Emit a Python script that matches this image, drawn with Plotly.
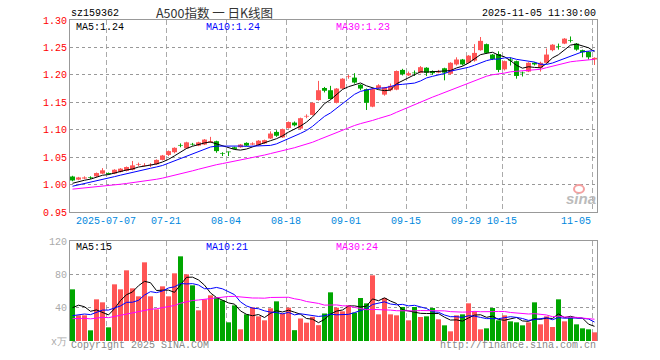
import plotly.graph_objects as go
import pandas as pd

# ---------------- data ----------------
dates = [
    "2025-06-27", "2025-06-30",
    "2025-07-01", "2025-07-02", "2025-07-03", "2025-07-04", "2025-07-07", "2025-07-08", "2025-07-09", "2025-07-10",
    "2025-07-11", "2025-07-14", "2025-07-15", "2025-07-16", "2025-07-17", "2025-07-18", "2025-07-21", "2025-07-22",
    "2025-07-23", "2025-07-24", "2025-07-25", "2025-07-28", "2025-07-29", "2025-07-30", "2025-07-31",
    "2025-08-01", "2025-08-04", "2025-08-05", "2025-08-06", "2025-08-07", "2025-08-08", "2025-08-11", "2025-08-12",
    "2025-08-13", "2025-08-14", "2025-08-15", "2025-08-18", "2025-08-19", "2025-08-20", "2025-08-21", "2025-08-22",
    "2025-08-25", "2025-08-26", "2025-08-27", "2025-08-28", "2025-08-29",
    "2025-09-01", "2025-09-02", "2025-09-03", "2025-09-04", "2025-09-05", "2025-09-08", "2025-09-09", "2025-09-10",
    "2025-09-11", "2025-09-12", "2025-09-15", "2025-09-16", "2025-09-17", "2025-09-18", "2025-09-19", "2025-09-22",
    "2025-09-23", "2025-09-24", "2025-09-25", "2025-09-26", "2025-09-29", "2025-09-30",
    "2025-10-09", "2025-10-10", "2025-10-13", "2025-10-14", "2025-10-15", "2025-10-16", "2025-10-17", "2025-10-20",
    "2025-10-21", "2025-10-22", "2025-10-23", "2025-10-24", "2025-10-27", "2025-10-28", "2025-10-29", "2025-10-30",
    "2025-10-31", "2025-11-03", "2025-11-04", "2025-11-05",
]

open_ = [1.0147, 1.009, 1.011, 1.013, 1.015, 1.020, 1.021, 1.020, 1.023, 1.025,
         1.027, 1.036, 1.034, 1.035, 1.037, 1.045, 1.054, 1.059, 1.072, 1.066,
         1.074, 1.071, 1.073, 1.077, 1.079, 1.057, 1.060, 1.068, 1.068, 1.076,
         1.073, 1.072, 1.075, 1.084, 1.096, 1.086, 1.103, 1.113, 1.102, 1.124,
         1.127, 1.154, 1.176, 1.172, 1.149, 1.175, 1.196, 1.195, 1.182, 1.174,
         1.142, 1.176, 1.164, 1.172, 1.173, 1.209, 1.199, 1.204, 1.204, 1.213,
         1.207, 1.204, 1.212, 1.202, 1.219, 1.228, 1.222, 1.226, 1.245, 1.256,
         1.237, 1.238, 1.210, 1.228, 1.225, 1.204, 1.206, 1.222, 1.213, 1.222,
         1.245, 1.252, 1.257, 1.263, 1.257, 1.245, 1.242, 1.228]

close = [1.0075, 1.013, 1.013, 1.012, 1.021, 1.026, 1.019, 1.027, 1.029, 1.032,
         1.035, 1.037, 1.035, 1.036, 1.045, 1.053, 1.061, 1.067, 1.071, 1.077,
         1.073, 1.077, 1.082, 1.079, 1.061, 1.056, 1.059, 1.065, 1.073, 1.071,
         1.075, 1.080, 1.081, 1.093, 1.089, 1.101, 1.114, 1.108, 1.121, 1.125,
         1.149, 1.172, 1.171, 1.156, 1.175, 1.193, 1.197, 1.186, 1.175, 1.149,
         1.174, 1.181, 1.177, 1.180, 1.207, 1.201, 1.203, 1.203, 1.214, 1.204,
         1.203, 1.206, 1.204, 1.222, 1.228, 1.219, 1.235, 1.240, 1.262, 1.240,
         1.229, 1.209, 1.225, 1.226, 1.198, 1.203, 1.222, 1.219, 1.222, 1.237,
         1.255, 1.251, 1.266, 1.262, 1.246, 1.241, 1.232, 1.231]

high = [1.0160, 1.014, 1.015, 1.015, 1.022, 1.030, 1.022, 1.028, 1.030, 1.033,
        1.043, 1.040, 1.039, 1.039, 1.046, 1.054, 1.062, 1.068, 1.075, 1.078,
        1.076, 1.078, 1.083, 1.087, 1.080, 1.059, 1.060, 1.069, 1.074, 1.077,
        1.077, 1.081, 1.082, 1.097, 1.099, 1.102, 1.115, 1.115, 1.122, 1.128,
        1.150, 1.189, 1.178, 1.180, 1.176, 1.194, 1.200, 1.203, 1.183, 1.175,
        1.176, 1.183, 1.178, 1.184, 1.208, 1.211, 1.206, 1.208, 1.216, 1.214,
        1.208, 1.209, 1.213, 1.223, 1.232, 1.229, 1.236, 1.256, 1.269, 1.257,
        1.238, 1.243, 1.226, 1.232, 1.226, 1.206, 1.223, 1.223, 1.224, 1.248,
        1.256, 1.257, 1.267, 1.270, 1.258, 1.246, 1.243, 1.232]

low = [1.0060, 1.008, 1.010, 1.010, 1.014, 1.019, 1.018, 1.019, 1.022, 1.024,
       1.026, 1.034, 1.033, 1.032, 1.036, 1.044, 1.052, 1.057, 1.068, 1.065,
       1.071, 1.070, 1.072, 1.076, 1.058, 1.052, 1.052, 1.064, 1.067, 1.070,
       1.072, 1.071, 1.074, 1.083, 1.087, 1.085, 1.102, 1.106, 1.100, 1.121,
       1.126, 1.153, 1.168, 1.155, 1.148, 1.174, 1.193, 1.184, 1.172, 1.136,
       1.141, 1.174, 1.162, 1.170, 1.172, 1.199, 1.198, 1.198, 1.203, 1.198,
       1.200, 1.203, 1.190, 1.200, 1.217, 1.217, 1.221, 1.224, 1.244, 1.238,
       1.227, 1.205, 1.208, 1.217, 1.193, 1.197, 1.205, 1.217, 1.206, 1.221,
       1.243, 1.246, 1.256, 1.259, 1.244, 1.232, 1.228, 1.218]

# volume, in 万
volume = [62, 30.8, 30.8, 12.8, 50, 46.4, 16.4, 68, 62, 84.8,
          63.2, 53.6, 94.4, 53.6, 38, 65.6, 53.6, 81.2, 101.6, 80,
          66.8, 36.8, 50, 54.8, 52.4, 48.8, 22.4, 42.8, 14, 32,
          40.4, 29.6, 24.8, 39.2, 47.6, 33, 40, 13, 27, 22,
          29, 19, 33, 58.4, 40, 35.6, 42.8, 34, 51.6, 45.2,
          78.8, 32, 51.6, 32, 30.8, 40.8, 24.8, 40.8, 28.8, 29.6,
          39.6, 26, 18.8, 11.6, 30.8, 32, 45.2, 35.6, 14, 15.2,
          39.6, 24.8, 30.8, 23.6, 22.4, 18.8, 22.4, 46.4, 20, 29.6,
          16.8, 50, 23.6, 28.4, 20, 15.2, 14, 10.4]

# estimated sessions before the window (needed for the moving averages at the left edge)
prior_close = [0.982, 0.985, 0.987, 0.984, 0.988, 0.990, 0.986, 0.989, 0.991, 0.993,
               0.990, 0.988, 0.992, 0.994, 0.991, 0.989, 0.987, 0.990, 0.993, 0.991,
               0.989, 0.990, 0.992, 0.993, 0.994, 0.998, 1.000, 1.002, 1.004]
prior_volume = [22, 28, 31, 24, 19, 27, 25, 30, 21, 26, 23, 29, 24, 20, 27, 25, 28, 22, 26, 23,
                18, 24, 20, 23, 19, 16, 40, 40, 42]

tick_dates = ["2025-07-07", "2025-07-21", "2025-08-04", "2025-08-18", "2025-09-01",
              "2025-09-15", "2025-09-29", "2025-10-15", "2025-11-05"]
tick_labels = ["2025-07-07", "07-21", "08-04", "08-18", "09-01", "09-15", "09-29", "10-15", "11-05"]
price_ticks = [0.95, 1.00, 1.05, 1.10, 1.15, 1.20, 1.25, 1.30]
vol_ticks = [0, 40, 80, 120]
vol_ticktext = ["x万", "40", "80", "120"]
price_legend = ["MA5:1.24", "MA10:1.24", "MA30:1.23"]
vol_legend = ["MA5:15", "MA10:21", "MA30:24"]

# ---------------- styles ----------------
RED = "#FF5555"
GREEN = "#00A600"
MA_COLORS = ["#000000", "#0000FF", "#FF00FF"]
MONO = "Liberation Mono, DejaVu Sans Mono, monospace"
W, H = 660, 360
L, R, T, B = 70, 63, 20, 19
PW, PH = W - L - R, H - T - B


def px(x):
    return (x - L) / PW


def py(y):
    return (H - B - y) / PH


n = len(dates)
xs = list(range(n))
up = [c >= o for o, c in zip(open_, close)]
colors = [RED if u else GREEN for u in up]

fig = go.Figure()

# candle wicks
for flag, col in ((True, RED), (False, GREEN)):
    wx, wy = [], []
    for i in xs:
        if up[i] == flag:
            wx += [i, i, None]
            wy += [low[i], high[i], None]
    fig.add_trace(go.Scatter(x=wx, y=wy, mode="lines", line=dict(color=col, width=1),
                             hoverinfo="skip", showlegend=False, xaxis="x", yaxis="y"))

# candle bodies
base = [min(o, c) for o, c in zip(open_, close)]
span = [max(abs(c - o), 0.0012) for o, c in zip(open_, close)]
fig.add_trace(go.Bar(x=xs, y=span, base=base, width=0.83, marker=dict(color=colors, line=dict(width=0)),
                     showlegend=False, xaxis="x", yaxis="y"))

# moving averages on price
cs = pd.Series(prior_close + close)
vs = pd.Series(prior_volume + volume)
k = len(prior_close)
for win, col in zip((5, 10, 30), MA_COLORS):
    fig.add_trace(go.Scatter(x=xs, y=cs.rolling(win).mean().iloc[k:].tolist(), mode="lines",
                             line=dict(color=col, width=1), showlegend=False, xaxis="x", yaxis="y"))

# volume bars
fig.add_trace(go.Bar(x=xs, y=volume, width=0.83, marker=dict(color=colors, line=dict(width=0)),
                     showlegend=False, xaxis="x2", yaxis="y2"))
for win, col in zip((5, 10, 30), MA_COLORS):
    fig.add_trace(go.Scatter(x=xs, y=vs.rolling(win).mean().iloc[k:].tolist(), mode="lines",
                             line=dict(color=col, width=1), showlegend=False, xaxis="x2", yaxis="y2"))

off = 2.5 / 6.0
grid_x = [dates.index(d) - off for d in tick_dates]
xrange = [-off, -off + PW / 6.0]

axis_common = dict(range=xrange, tickvals=grid_x, showticklabels=False, ticks="",
                   showgrid=True, gridcolor="#AAAAAA", griddash="5px,3px", gridwidth=1,
                   zeroline=False, fixedrange=True)

fig.update_layout(
    width=W, height=H, margin=dict(l=L, r=R, t=T, b=B, autoexpand=False),
    paper_bgcolor="white", plot_bgcolor="white", barmode="overlay",
    xaxis=dict(domain=[0, 1], anchor="y", showline=True, mirror=True, linecolor="#999999",
               linewidth=1, **axis_common),
    xaxis2=dict(domain=[0, 1], anchor="y2", showline=True, side="top", linecolor="#999999",
                linewidth=1, **axis_common),
    yaxis=dict(domain=[py(212), 1], range=[0.95, 1.30], tickvals=price_ticks,
               ticktext=[f"{v:.2f}" for v in price_ticks], tickfont=dict(family=MONO, size=10, color="#FF0000"),
               showgrid=True, gridcolor="#999999", griddash="dot", gridwidth=1, zeroline=False,
               showline=True, mirror=True, linecolor="#999999", linewidth=1, ticks="", fixedrange=True,
               automargin=False),
    yaxis2=dict(domain=[0, py(241)], range=[0, 120], tickvals=vol_ticks, ticktext=vol_ticktext,
                tickfont=dict(family=MONO, size=10, color="#AAAAAA"),
                showgrid=True, gridcolor="#999999", griddash="dot", gridwidth=1, zeroline=False,
                showline=True, mirror=True, linecolor="#999999", linewidth=1, ticks="", fixedrange=True,
                automargin=False),
    showlegend=False,
)

ann = []


def text(x, y, s, color="#000000", anchor="left", size=10, family=MONO, **kw):
    ann.append(dict(x=px(x), y=py(y), xref="paper", yref="paper", text=s, showarrow=False,
                    xanchor=anchor, yanchor="middle", font=dict(family=family, size=size, color=color),
                    borderpad=0, **kw))


# header
text(70, 13, "sz159362")
text(214.5, 12, "A500指数 一 日K线图", color="#333333", anchor="center", size=12.5,
     family="Noto Sans CJK SC")
text(597, 13, "2025-11-05 11:30:00", anchor="right")

# MA legends
for s, x, col in zip(price_legend, (75, 205, 334.7), MA_COLORS):
    text(x, 27, s, color=col)
for s, x, col in zip(vol_legend, (75, 205, 334.7), MA_COLORS):
    text(x, 247, s, color=col)

# x tick labels
for gx, lab in zip(grid_x, tick_labels):
    is_last = lab == tick_labels[-1]
    ann.append(dict(x=gx, y=py(221.5), xref="x", yref="paper", text=lab, showarrow=False,
                    xanchor="right" if is_last else "center", yanchor="middle", borderpad=0,
                    font=dict(family=MONO, size=10, color="#0088DD")))

# footer
text(70, 346, "Copyright 2025 SINA.COM", color="#888888")
text(597, 346, "http://finance.sina.com.cn", color="#888888", anchor="right")

# watermark
text(597, 198, "<b><i>sina</i></b>", color="#BBBBBB", anchor="right", size=15,
     family="Liberation Sans, Arial, sans-serif")

fig.update_layout(annotations=ann)
fig.add_shape(type="circle", xref="paper", yref="paper", x0=px(574), x1=px(584), y0=py(193), y1=py(185),
              line=dict(color="#F4A0A0", width=2))

fig.write_html("out.html", config={"displayModeBar": False, "staticPlot": True},
               post_script="document.body.style.margin='0';document.body.style.padding='0';")
